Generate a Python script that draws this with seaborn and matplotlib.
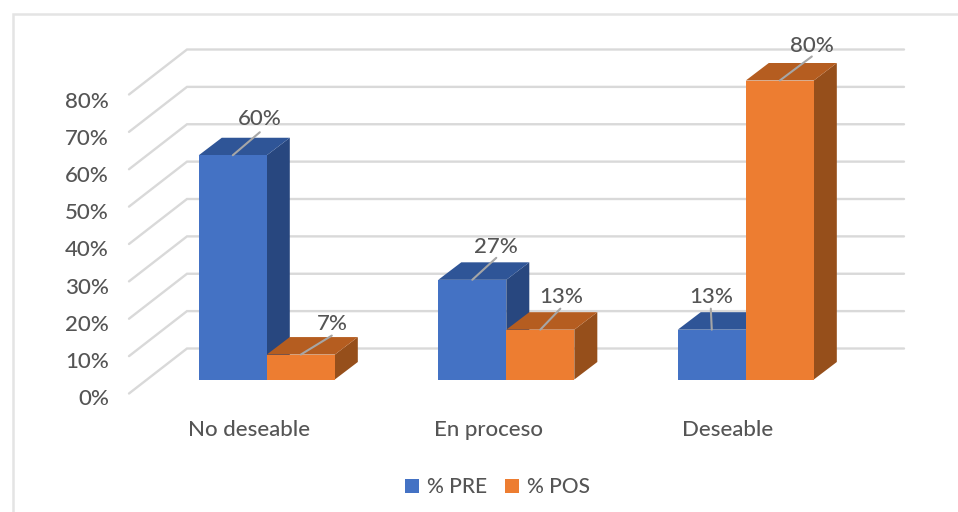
import matplotlib
matplotlib.use("Agg")
import matplotlib.pyplot as plt
from matplotlib.lines import Line2D
from matplotlib.patches import Polygon
import pandas as pd
import seaborn as sns

categories = ["No deseable", "En proceso", "Deseable"]
pre_values = [60.0, 26.67, 13.33]
pos_values = [6.67, 13.33, 80.0]
series_names = ["% PRE", "% POS"]
y_ticks = [0, 10, 20, 30, 40, 50, 60, 70, 80]

W, H = 958, 512
TEXT = "#555555"
GRID = "#D9D9D9"
FRONT = ["#4472C4", "#ED7D31"]
TOP = ["#2F5597", "#B55D20"]
SIDE = ["#28477F", "#964F1B"]
FONT = 16
WEIGHT = "medium"

# layout, pixels
PLOT_L, PLOT_R, PLOT_BOTTOM, PLOT_TOP = 129, 904, 379.5, 80.5
CAT0_PX, CAT_STEP_PX = 266.8, 239.5
PX_PER_UNIT = (PLOT_BOTTOM - PLOT_TOP) / 80
BAR_DX, BAR_DY = 23, 17.5
WALL_X = 187
WALL_Y0, FLOOR_Y0 = 348.5, 393.5

# label offsets in pixels from the middle of each bar's front top edge:
# (line end dx, dy, text centre dx, dy)
PRE_LABELS = [(27, 23, 27, 36), (24, 22, 24, 33), (-1, 21, -1, 33)]
POS_LABELS = [(31, 19, 32, 31), (20, 21, 21, 33), (32, 24, 32, 35)]

sns.set_theme(style="white", rc={"font.family": ["Lato", "DejaVu Sans"]})
plt.rcParams["font.family"] = ["Lato", "DejaVu Sans"]

df = pd.DataFrame({
    "cat": categories * 2,
    "serie": [series_names[0]] * 3 + [series_names[1]] * 3,
    "valor": pre_values + pos_values,
})

dpi = 100
fig = plt.figure(figsize=(W / dpi, H / dpi), dpi=dpi, facecolor="white")


def rect(l, r, bottom, top):
    return [l / W, 1 - bottom / H, (r - l) / W, (bottom - top) / H]


ax = fig.add_axes(rect(PLOT_L, PLOT_R, PLOT_BOTTOM, PLOT_TOP))
sns.barplot(data=df, x="cat", y="valor", hue="serie", palette=FRONT,
            hue_order=series_names, order=categories, width=0.568, gap=0,
            dodge=True, saturation=1, errorbar=None, ax=ax, zorder=6,
            linewidth=0)
ax.set_xlim((PLOT_L - CAT0_PX) / CAT_STEP_PX, (PLOT_R - CAT0_PX) / CAT_STEP_PX)
ax.set_ylim(0, 80)
ux = 1 / CAT_STEP_PX
uy = 1 / PX_PER_UNIT

# back wall and left wall gridlines
wall_x = (WALL_X - CAT0_PX) * ux
left_x = (PLOT_L - CAT0_PX) * ux
right_x = (PLOT_R - CAT0_PX) * ux
wall_off = (PLOT_BOTTOM - WALL_Y0) * uy
floor_off = (PLOT_BOTTOM - FLOOR_Y0) * uy
for v in y_ticks:
    ax.plot([left_x, wall_x, right_x],
            [v + floor_off, v + wall_off, v + wall_off],
            color=GRID, lw=1.7, clip_on=False, zorder=1,
            solid_joinstyle="miter")

# 3D faces derived from the bars
for i, cont in enumerate(ax.containers):
    for bar in cont:
        x0, w, h = bar.get_x(), bar.get_width(), bar.get_height()
        dx, dy = BAR_DX * ux, BAR_DY * uy
        side = [(x0 + w, 0), (x0 + w + dx, dy), (x0 + w + dx, h + dy), (x0 + w, h)]
        top = [(x0, h), (x0 + dx, h + dy), (x0 + w + dx, h + dy), (x0 + w, h)]
        ax.add_patch(Polygon(side, closed=True, fc=SIDE[i], ec="none",
                             clip_on=False, zorder=3 + i))
        ax.add_patch(Polygon(top, closed=True, fc=TOP[i], ec="none",
                             clip_on=False, zorder=3 + i))

# data labels with leader lines
pt = 72 / dpi
for i, (cont, offs) in enumerate(zip(ax.containers, [PRE_LABELS, POS_LABELS])):
    for bar, (lx, ly, tx, ty) in zip(cont, offs):
        xc = bar.get_x() + bar.get_width() / 2
        h = bar.get_height()
        ax.annotate("", xy=(xc, h), xytext=(lx * pt, ly * pt),
                    textcoords="offset points", annotation_clip=False,
                    arrowprops=dict(arrowstyle="-", color="#A6A6A6", lw=1.5,
                                    shrinkA=0, shrinkB=0), zorder=8)
        ax.annotate(f"{h:.0f}%", xy=(xc, h), xytext=(tx * pt, ty * pt),
                    textcoords="offset points", ha="center", va="center",
                    fontsize=FONT, fontweight=WEIGHT, color=TEXT,
                    annotation_clip=False, zorder=9)

sns.move_legend(ax, "center", bbox_to_anchor=(497.5 / W, 1 - 487 / H),
                bbox_transform=fig.transFigure, ncol=2, title=None,
                frameon=False, fontsize=FONT - 1, labelcolor=TEXT,
                handlelength=0.67, handleheight=0.67, handletextpad=0.36,
                columnspacing=0.88)
for t in ax.get_legend().get_texts():
    t.set_fontweight(WEIGHT)
ax.set_axis_off()
ax.get_legend().set_visible(True)

# axis labels sit on the chart's front plane
lab = fig.add_axes(rect(112, PLOT_R, 397, 100), facecolor="none", zorder=5)
lab.set_xlim((112 - 249) / CAT_STEP_PX, (PLOT_R - 249) / CAT_STEP_PX)
lab.set_ylim(0, 80)
lab.set_yticks(y_ticks, [f"{v}%" for v in y_ticks])
lab.set_xticks(range(len(categories)), categories)
lab.tick_params(axis="y", length=0, pad=2.2, labelsize=FONT, labelcolor=TEXT)
lab.tick_params(axis="x", length=0, pad=16.8, labelsize=FONT, labelcolor=TEXT)
for t in lab.get_xticklabels() + lab.get_yticklabels():
    t.set_fontweight(WEIGHT)
sns.despine(ax=lab, left=True, bottom=True)
lab.grid(False)

# outer chart frame
fig.add_artist(Line2D([12.5 / W, 12.5 / W, 1], [0, 1 - 13.5 / H, 1 - 13.5 / H],
                      color="#E4E4E4", lw=1.8, solid_joinstyle="miter"))

fig.savefig("out.png", dpi=dpi, facecolor="white")
